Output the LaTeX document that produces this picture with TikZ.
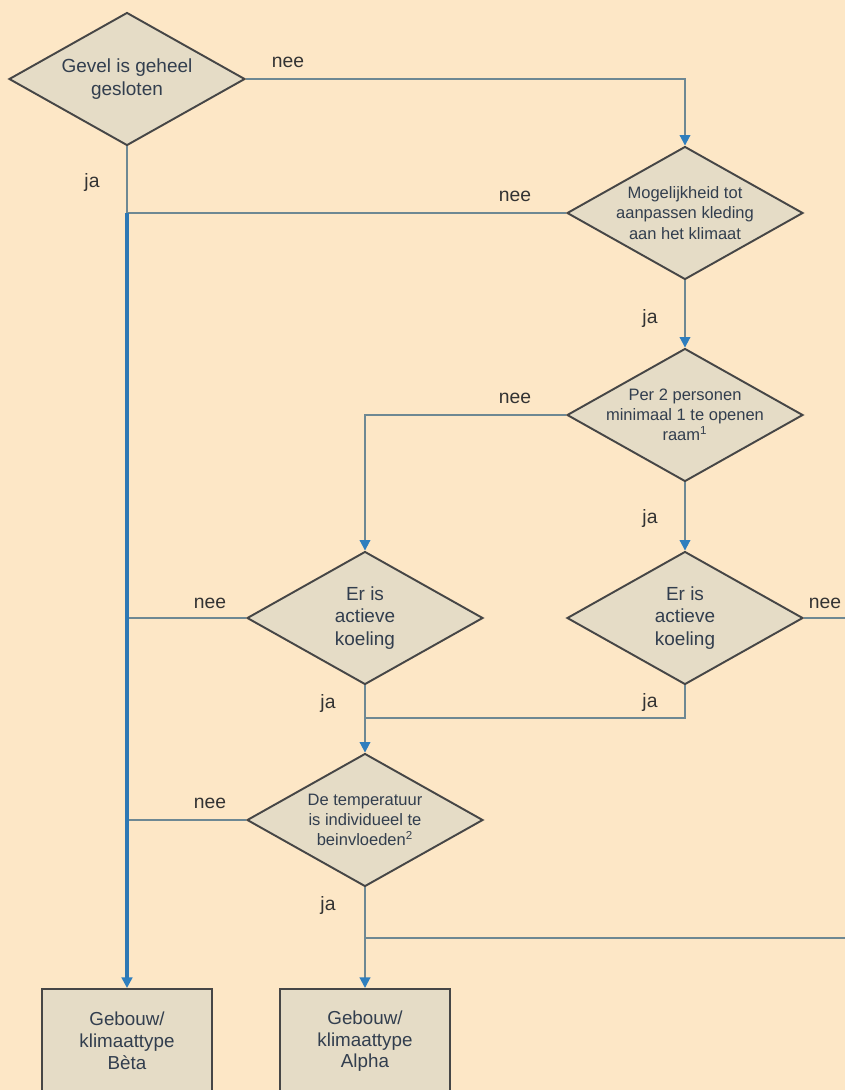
\documentclass[tikz,border=0pt]{standalone}
\usepackage{fontspec}
\setmainfont{Liberation Sans}
\usetikzlibrary{shapes}
\usetikzlibrary{positioning}
\usetikzlibrary{arrows.meta}

\definecolor{peach}{HTML}{FDE7C6}
\definecolor{boxfill}{HTML}{E5DCC6}
\definecolor{framegrey}{HTML}{464646}
\definecolor{linegrey}{HTML}{6E8893}
\definecolor{trunkblue}{HTML}{2E78B4}
\definecolor{arrowblue}{HTML}{2F7EBE}
\definecolor{textblue}{HTML}{323E4E}

\begin{document}
\begin{tikzpicture}[
	x=0.02cm,
	y=-0.02cm,
	font=\rmfamily
]
\tikzset{
    decision/.style = {diamond, draw=framegrey, fill=boxfill, line width=1.1pt, align=center,
        text=textblue, shape aspect=1.77, inner xsep=-8pt, inner ysep=-2pt,
        minimum width=4.72cm, minimum height=2.66cm},
    bigtext/.style = {font=\fontsize{10.8}{12.8}\selectfont},
    smalltext/.style = {font=\fontsize{9.4}{11.5}\selectfont},
    result/.style = {rectangle, draw=framegrey, fill=boxfill, line width=1.3pt, align=center,
        text=textblue, anchor=north, minimum width=3.4cm, minimum height=2.08cm,
        font=\fontsize{10.7}{12.5}\selectfont},
    flow/.style = {draw=linegrey, line width=1.1pt},
    flowa/.style = {flow, -{Triangle[length=6pt,width=6pt,color=arrowblue]}},
    trunk/.style = {draw=trunkblue, line width=2.2pt, -{Triangle[length=6pt,width=6pt,color=arrowblue]}},
    lbl/.style = {text=black!80, font=\fontsize{11}{12}\selectfont}
}
\clip (0,0) rectangle (845,1090);
\fill[peach] (0,0) rectangle (845,1090);
%
\node[decision, bigtext] at (127,79) (d1) {Gevel is geheel\\gesloten};
\node[decision, smalltext] at (685,213) (d2) {Mogelijkheid tot\\aanpassen kleding\\aan het klimaat};
\node[decision, smalltext] at (685,415) (d3) {Per 2 personen\\minimaal 1 te openen\\raam\textsuperscript{1}};
\node[decision, bigtext] at (365,618) (d4) {Er is\\actieve\\koeling};
\node[decision, bigtext] at (685,618) (d5) {Er is\\actieve\\koeling};
\node[decision, smalltext] at (365,820) (d6) {De temperatuur\\is individueel te\\beinvloeden\textsuperscript{2}};
\node[result] at (127,988) (beta) {Gebouw/\\klimaattype\\Bèta};
\node[result] at (365,988) (alpha) {Gebouw/\\klimaattype\\Alpha};
%
\coordinate (j1) at (d1.south |- d2.west);
\coordinate (j2) at (365,718);
\coordinate (j3) at (365,938);
\coordinate (r1) at (845,618);
\coordinate (r2) at (845,938);
%
\draw[flowa] (d1.east) -| (d2.north);
\draw[flow] (d1.south) -- (j1);
\draw[flow] (d2.west) -- (j1);
\draw[flowa] (d2.south) -- (d3.north);
\draw[flowa] (d3.west) -| (d4.north);
\draw[flowa] (d3.south) -- (d5.north);
\draw[flow] (d4.west) -- (d4.west -| j1);
\draw[flow] (d5.east) -- (r1);
\draw[flowa] (d4.south) -- (d6.north);
\draw[flow] (d5.south) |- (j2);
\draw[flow] (d6.west) -- (d6.west -| j1);
\draw[flowa] (d6.south) -- (alpha.north);
\draw[flow] (j3) -- (r2);
\draw[trunk] (j1) -- (beta.north);
%
\node[lbl] at (288,62) (n1) {nee};
\node[lbl] at (92,182) (y1) {ja};
\node[lbl] at (515,196) (n2) {nee};
\node[lbl] at (650,318) (y2) {ja};
\node[lbl] at (515,398) (n3) {nee};
\node[lbl] at (650,518) (y3) {ja};
\node[lbl] at (210,603) (n4) {nee};
\node[lbl] at (825,603) (n5) {nee};
\node[lbl] at (328,703) (y4) {ja};
\node[lbl] at (650,702) (y5) {ja};
\node[lbl] at (210,803) (n6) {nee};
\node[lbl] at (328,905) (y6) {ja};
\end{tikzpicture}
\end{document}
